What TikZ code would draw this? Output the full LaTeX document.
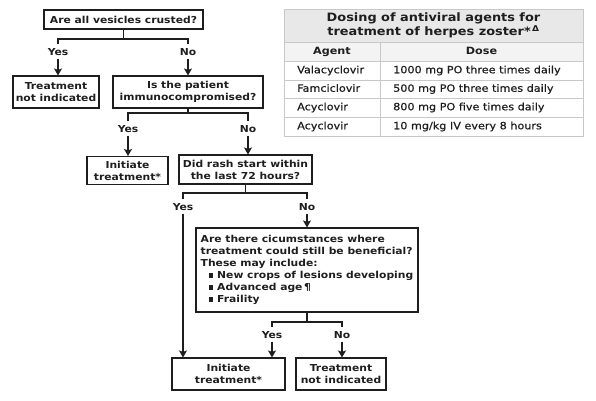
\documentclass[tikz,border=0pt]{standalone}
\usepackage{fontspec}
\setmainfont{DejaVu Sans}[FakeStretch=1.12]
\newfontfamily\cellfont{DejaVu Sans}[FakeStretch=1.12, FakeBold=0.6]
\usetikzlibrary{arrows.meta}
\definecolor{ink}{HTML}{1E1E1E}
\definecolor{tblrule}{HTML}{C8C8C8}
\definecolor{headfill}{HTML}{E8E8E8}
\definecolor{colfill}{HTML}{F3F3F3}

\begin{document}
\begin{tikzpicture}[x=1pt,y=-1pt,
  box/.style={draw=ink, line width=1.1pt, text=ink, font=\fontsize{9.6}{12}\selectfont\bfseries, align=center, inner sep=0pt},
  lbl/.style={text=ink, font=\fontsize{9.6}{12}\selectfont\bfseries, inner sep=1pt, text height=7pt, text depth=2pt},
  link/.style={draw=ink, line width=1.1pt},
  arr/.style={draw=ink, line width=1.1pt, -{Stealth[length=7pt, width=8pt, inset=1.5pt]}},
  cell/.style={text=ink, font=\fontsize{10}{12}\cellfont, inner sep=0pt, text height=7.5pt, text depth=2pt}]
\useasboundingbox (0,0) rectangle (596,400);
\node[box, minimum width=159, minimum height=19] (crust) at (123.5,19.5) {Are all vesicles crusted?};
\node[box, minimum width=86, minimum height=32] (notA) at (56,92) {Treatment\\not indicated};
\node[box, minimum width=150, minimum height=32] (immuno) at (188,92) {Is the patient\\immunocompromised?};
\node[box, minimum width=81, minimum height=28] (startA) at (127.5,170.5) {Initiate\\treatment*};
\node[box, minimum width=133, minimum height=29] (rash) at (245.5,169.5) {Did rash start within\\the last 72 hours?};
\node[box, minimum width=222, minimum height=84, align=left] (circum) at (307,270)
  {Are there cicumstances where\\treatment could still be beneficial?\\These may include:\\
   \hspace*{8pt}\rule[1pt]{4.5pt}{4.5pt}\hspace{4pt}New crops of lesions developing\\
   \hspace*{8pt}\rule[1pt]{4.5pt}{4.5pt}\hspace{4pt}Advanced age\,¶\\
   \hspace*{8pt}\rule[1pt]{4.5pt}{4.5pt}\hspace{4pt}Fraility};
\node[box, minimum width=113, minimum height=32] (startB) at (228.5,374) {Initiate\\treatment*};
\node[box, minimum width=90, minimum height=32] (notB) at (341,374) {Treatment\\not indicated};

\node[lbl] (yesA) at (58,53) {Yes};
\node[lbl] (noA) at (188,53) {No};
\node[lbl] (yesB) at (128,130) {Yes};
\node[lbl] (noB) at (248,130) {No};
\node[lbl] (yesC) at (183,208) {Yes};
\node[lbl] (noC) at (307,208) {No};
\node[lbl] (yesD) at (272,336) {Yes};
\node[lbl] (noD) at (342,336) {No};
\coordinate (barA) at (123.5,39);
\coordinate (barB) at (188,113);
\coordinate (barC) at (245.5,193);
\coordinate (barD) at (307,322);

\draw[link] (crust.south) -- (barA);
\draw[link] ([yshift=3pt]yesA.north) |- (barA) -| ([yshift=3pt]noA.north);
\draw[arr] (yesA.south) -- (yesA.south |- notA.north);
\draw[arr] (noA.south) -- (noA.south |- immuno.north);
\draw[link] (immuno.south) -- (barB);
\draw[link] ([yshift=3pt]yesB.north) |- (barB) -| ([yshift=3pt]noB.north);
\draw[arr] (yesB.south) -- (yesB.south |- startA.north);
\draw[arr] (noB.south) -- (noB.south |- rash.north);
\draw[link] (rash.south) -- (barC);
\draw[link] ([yshift=3pt]yesC.north) |- (barC) -| ([yshift=3pt]noC.north);
\draw[arr] (yesC.south) -- (yesC.south |- startB.north);
\draw[arr] (noC.south) -- (noC.south |- circum.north);
\draw[link] (circum.south) -- (barD);
\draw[link] ([yshift=3pt]yesD.north) |- (barD) -| ([yshift=3pt]noD.north);
\draw[arr] (yesD.south) -- (yesD.south |- startB.north);
\draw[arr] (noD.south) -- (noD.south |- notB.north);

\fill[headfill] (284,9) rectangle (583,42);
\fill[colfill] (284,42) rectangle (583,61);
\draw[tblrule, line width=1pt] (284,9) rectangle (583,136);
\draw[tblrule, line width=1pt] (284,42) -- (583,42) (284,61) -- (583,61) (284,80) -- (583,80)
  (284,98) -- (583,98) (284,117) -- (583,117) (380,42) -- (380,136);
\node[text=ink, font=\fontsize{11.5}{13.5}\selectfont\bfseries, align=center] (title) at (433.5,25.5)
  {Dosing of antiviral agents for\\treatment of herpes zoster*\textsuperscript{\,Δ}};
\node[cell, font=\fontsize{10}{12}\selectfont\bfseries] (agenthd) at (332,51.5) {Agent};
\node[cell, font=\fontsize{10}{12}\selectfont\bfseries] (dosehd) at (481.5,51.5) {Dose};
\node[cell, anchor=west] (agentA) at (297,70.5) {Valacyclovir};
\node[cell, anchor=west] (doseA) at (393,70.5) {1000 mg PO three times daily};
\node[cell, anchor=west] (agentB) at (297,89) {Famciclovir};
\node[cell, anchor=west] (doseB) at (393,89) {500 mg PO three times daily};
\node[cell, anchor=west] (agentC) at (297,107.5) {Acyclovir};
\node[cell, anchor=west] (doseC) at (393,107.5) {800 mg PO five times daily};
\node[cell, anchor=west] (agentD) at (297,126.5) {Acyclovir};
\node[cell, anchor=west] (doseD) at (393,126.5) {10 mg/kg IV every 8 hours};
\end{tikzpicture}
\end{document}
